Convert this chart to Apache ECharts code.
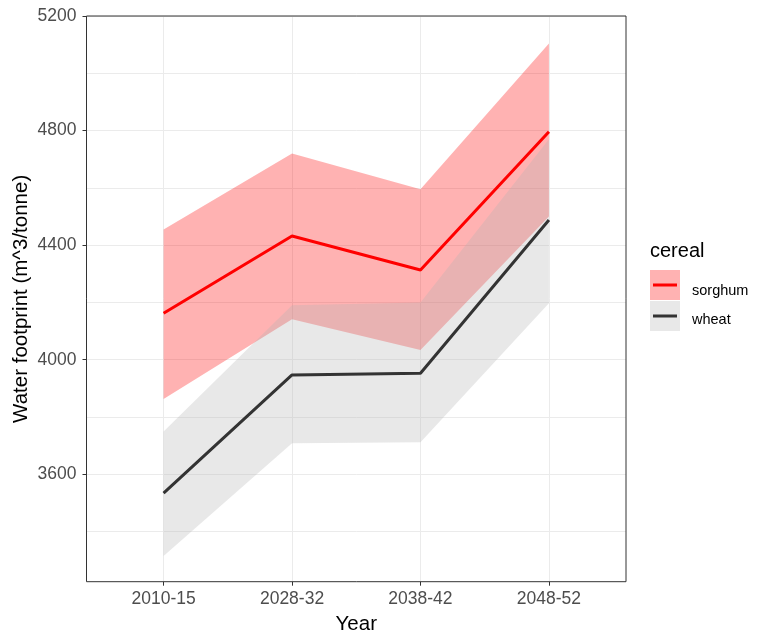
<!DOCTYPE html>
<html>
<head>
<meta charset="utf-8">
<script src="https://cdn.jsdelivr.net/npm/echarts@6/dist/echarts.min.js"></script>
<style>
  html, body { margin: 0; padding: 0; background: #fff; }
  #chart { width: 764px; height: 633px; }
</style>
</head>
<body>
<div id="chart"></div>
<script>
// Periods on the x axis
const years = ['2010-15', '2028-32', '2038-42', '2048-52'];

// Sorghum water footprint (m^3/tonne): mean and uncertainty band
const sorghumMean  = [4162, 4432, 4313, 4796];
const sorghumLower = [3863, 4141, 4034, 4500];
const sorghumUpper = [4455, 4720, 4595, 5104];

// Wheat water footprint (m^3/tonne): mean and uncertainty band
const wheatMean  = [3534, 3947, 3953, 4488];
const wheatLower = [3315, 3708, 3712, 4197];
const wheatUpper = [3749, 4190, 4200, 4770];

// Axis ticks and grid
const yTicks = [3600, 4000, 4400, 4800, 5200];
const yGrid  = [3400, 3600, 3800, 4000, 4200, 4400, 4600, 4800, 5000, 5200];
const xPos   = years.map((_, i) => i + 1);

const pts = arr => arr.map((v, i) => [xPos[i], v]);

const FONT = '"Liberation Sans", Arial, sans-serif';
const GRID_COLOR = '#EBEBEB';

// Ribbon between a lower and upper bound, drawn as one polygon in data coordinates
function ribbon(name, lower, upper, fill) {
  return {
    name: name, type: 'custom', z: 2, silent: true,
    data: [[xPos[0], lower[0]]],
    renderItem: function (params, api) {
      const top = upper.map((v, i) => api.coord([xPos[i], v]));
      const bottom = lower.map((v, i) => api.coord([xPos[i], v])).reverse();
      return {
        type: 'polygon',
        shape: { points: top.concat(bottom) },
        style: { fill: fill }
      };
    }
  };
}

const chart = echarts.init(document.getElementById('chart'), null, { renderer: 'canvas' });

chart.setOption({
  animation: false,
  backgroundColor: '#ffffff',
  grid: {
    left: 86.5, top: 16, right: 138, bottom: 51.3,
    containLabel: false, outerBoundsMode: 'none',
    show: true, borderColor: '#333333', borderWidth: 1, backgroundColor: 'transparent',
    z: 10
  },
  xAxis: {
    type: 'value', min: 0.4, max: 4.6,
    name: 'Year', nameLocation: 'middle', nameGap: 32, nameMoveOverlap: false,
    nameTextStyle: { fontFamily: FONT, fontSize: 20.5, color: '#000' },
    axisLine: { show: false, onZero: false },
    axisTick: { show: true, customValues: xPos, length: 4, lineStyle: { color: '#333', width: 1 } },
    axisLabel: {
      customValues: xPos, margin: 8,
      fontFamily: FONT, fontSize: 17.5, color: '#4D4D4D',
      formatter: v => years[Math.round(v) - 1]
    },
    splitLine: { show: false }
  },
  yAxis: {
    type: 'value', min: 3225, max: 5200,
    name: 'Water footprint (m^3/tonne)', nameLocation: 'middle', nameGap: 55, nameMoveOverlap: false,
    nameTextStyle: { fontFamily: FONT, fontSize: 20.5, color: '#000' },
    axisLine: { show: false, onZero: false },
    axisTick: { show: true, customValues: yTicks, length: 4, lineStyle: { color: '#333', width: 1 } },
    axisLabel: {
      customValues: yTicks, margin: 10,
      fontFamily: FONT, fontSize: 17.5, color: '#4D4D4D',
      formatter: v => String(v)
    },
    splitLine: { show: false }
  },
  series: [
    {
      name: 'grid-lines', type: 'line', data: pts(sorghumMean), z: 1, silent: true,
      symbol: 'none', lineStyle: { opacity: 0 },
      markLine: {
        silent: true, symbol: 'none', z: 1, animation: false,
        label: { show: false },
        lineStyle: { color: GRID_COLOR, type: 'solid', width: 1 },
        data: yGrid.map(v => ({ yAxis: v })).concat(xPos.map(v => ({ xAxis: v })))
      }
    },
    ribbon('sorghum-band', sorghumLower, sorghumUpper, 'rgba(255,0,0,0.3)'),
    ribbon('wheat-band', wheatLower, wheatUpper, 'rgba(179,179,179,0.3)'),
    {
      name: 'sorghum', type: 'line', data: pts(sorghumMean), symbol: 'none',
      lineStyle: { color: '#FF0000', width: 3 }, z: 3
    },
    {
      name: 'wheat', type: 'line', data: pts(wheatMean), symbol: 'none',
      lineStyle: { color: '#333333', width: 3 }, z: 3
    }
  ],
  graphic: [
    { type: 'text', left: 650, top: 241, style: { text: 'cereal', font: '20px ' + FONT, fill: '#000' } },
    { type: 'rect', shape: { x: 650, y: 270, width: 30, height: 30 }, style: { fill: 'rgba(255,0,0,0.3)' } },
    { type: 'line', shape: { x1: 653, y1: 285, x2: 677, y2: 285 }, style: { stroke: '#FF0000', lineWidth: 3 } },
    { type: 'rect', shape: { x: 650, y: 301, width: 30, height: 30 }, style: { fill: 'rgba(179,179,179,0.3)' } },
    { type: 'line', shape: { x1: 653, y1: 316, x2: 677, y2: 316 }, style: { stroke: '#333333', lineWidth: 3 } },
    { type: 'text', x: 692, y: 291, style: { text: 'sorghum', font: '14.5px ' + FONT, fill: '#000', verticalAlign: 'middle' } },
    { type: 'text', x: 692, y: 320, style: { text: 'wheat', font: '14.5px ' + FONT, fill: '#000', verticalAlign: 'middle' } }
  ]
});
</script>
</body>
</html>
